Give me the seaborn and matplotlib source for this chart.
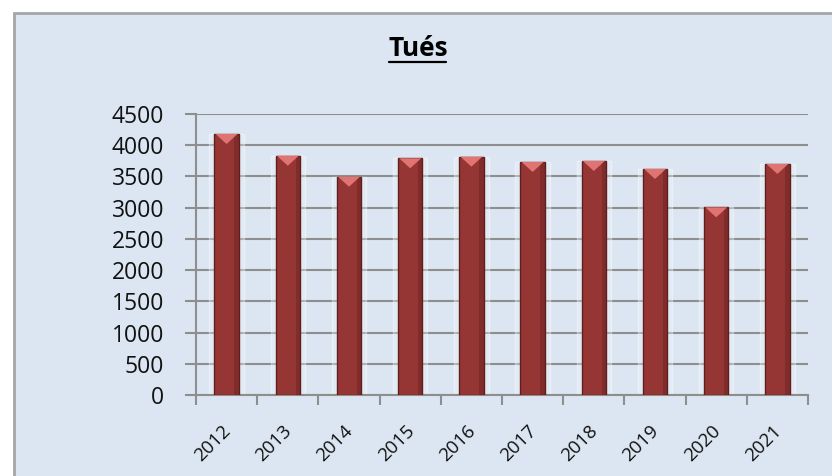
import numpy as np
import pandas as pd
import matplotlib
matplotlib.use("Agg")
import matplotlib.pyplot as plt
import matplotlib.transforms as mtransforms
from matplotlib.patches import Rectangle, Polygon
from matplotlib.lines import Line2D
import seaborn as sns

# ---- data ----
years = ["2012", "2013", "2014", "2015", "2016", "2017", "2018", "2019", "2020", "2021"]
tues = [4180, 3832, 3496, 3791, 3817, 3732, 3748, 3620, 3006, 3700]
yticks = [0, 500, 1000, 1500, 2000, 2500, 3000, 3500, 4000, 4500]
title = "Tués"

sns.set_theme(style="white")
plt.rcParams["font.family"] = ["Open Sans", "DejaVu Sans"]

W, H = 832, 476
fig = plt.figure(figsize=(W / 100, H / 100), dpi=100)
fig.patch.set_facecolor("white")

bg = "#DCE6F2"
grid_c = "#8E8E8E"
bar_c = "#963634"
edge_c = "#5E1F1E"
cap_c = "#E07473"

# outer chart frame
fig.patches.append(Rectangle((14 / W, -0.05), 1.2, 1 - 13 / H + 0.05,
                             transform=fig.transFigure, facecolor=bg,
                             edgecolor="#A6A6A6", linewidth=2, zorder=-10))

ax = fig.add_axes([196 / W, 1 - 395 / H, (808 - 196) / W, (395 - 114) / H])
ax.set_zorder(5)
ax.set_facecolor(bg)
ax.patch.set_alpha(0)

df = pd.DataFrame({"year": years, "tues": tues})

# soft glow behind bars
ax.bar(np.arange(len(years)), tues, width=0.56, color="#EEF3F9", alpha=0.35, zorder=1)

sns.barplot(data=df, x="year", y="tues", color=bar_c, saturation=1, width=0.4,
            edgecolor=edge_c, linewidth=1.0, ax=ax, zorder=3)

# pyramid-like light cap on top of each bar (from bar geometry)
px_per_unit = ((395 - 114) / 4500)
depth = 10 / px_per_unit
for p in list(ax.patches):
    if abs(p.get_width() - 0.4) > 1e-6:
        continue
    x0 = p.get_x()
    w = p.get_width()
    top = p.get_height()
    tri = Polygon([(x0 + 0.02, top), (x0 + w - 0.02, top), (x0 + w / 2, top - depth)],
                  closed=True, facecolor=cap_c, edgecolor="none", zorder=4)
    ax.add_patch(tri)
    # darker right side shading
    ax.add_patch(Rectangle((x0 + w * 0.82, 0), w * 0.18, top, facecolor="#6E2422",
                           edgecolor="none", alpha=0.55, zorder=3.5))

ax.set_xlim(-0.5, len(years) - 0.5)
ax.set_ylim(0, 4500)
ax.set_yticks(yticks)
ax.set_yticklabels([str(v) for v in yticks])
ax.yaxis.grid(True, color=grid_c, linewidth=1.5)
ax.set_axisbelow(True)
ax.set_xlabel("")
ax.set_ylabel("")

for s in ["top", "right"]:
    ax.spines[s].set_visible(False)
for s in ["left", "bottom"]:
    ax.spines[s].set_color(grid_c)
    ax.spines[s].set_linewidth(1.5)

ax.tick_params(axis="y", which="major", direction="out", length=8, width=1.5,
               color=grid_c, labelsize=16.5, labelcolor="#111111", pad=15, left=True)

ax.set_xticks(np.arange(len(years)))
ax.set_xticklabels(years, rotation=45, ha="right", rotation_mode="anchor")
ax.set_xticks(np.arange(-0.5, len(years), 1), minor=True)
ax.tick_params(axis="x", which="major", length=0, labelsize=13.5, labelcolor="#111111", pad=19)
ax.tick_params(axis="x", which="minor", direction="out", length=7, width=1.5,
               color=grid_c, bottom=True)
offset = mtransforms.ScaledTranslation(-5 / 100, 0, fig.dpi_scale_trans)
for lab in ax.get_xticklabels():
    lab.set_transform(lab.get_transform() + offset)

# title with underline
fig.text(418 / W, 1 - 56 / H, title, ha="center", va="baseline",
         fontsize=19, fontweight="bold", color="black")
fig.add_artist(Line2D([389 / W, 446 / W], [1 - 61.5 / H, 1 - 61.5 / H],
                      transform=fig.transFigure, color="black", linewidth=1.6))

fig.savefig("out.png", dpi=100)
